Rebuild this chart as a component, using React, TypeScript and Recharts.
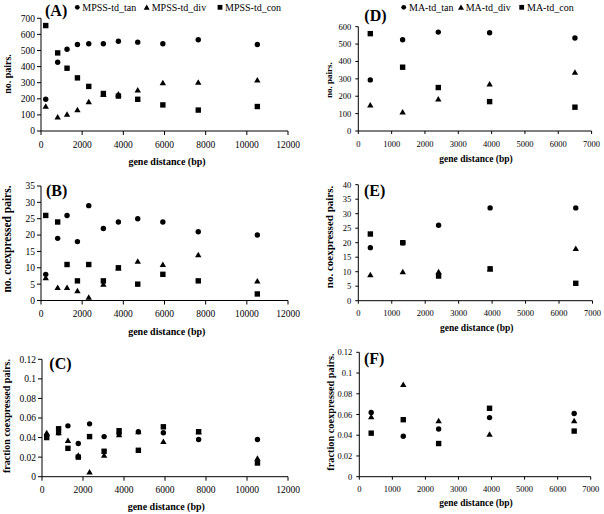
import React from 'react';
import { ScatterChart, Scatter, XAxis, YAxis } from 'recharts';

const FONT = "'Liberation Serif', 'Times New Roman', Times, serif";

// ---------- data ----------
const leftDistances = [230, 810, 1265, 1770, 2320, 3030, 3760, 4700, 5920, 7640, 10510];
const rightDistances = [360, 1330, 2400, 3940, 6500];

const mpssTanPairs = [197, 427, 508, 537, 542, 542, 557, 552, 542, 567, 537];
const mpssDivPairs = [155, 88, 105, 133, 183, 228, 230, 255, 300, 303, 318];
const mpssConPairs = [655, 485, 390, 330, 277, 233, 217, 197, 162, 130, 152];

const mpssTanCoexp = [8, 19, 26, 18, 29, 22, 24, 25, 24, 21, 20];
const mpssDivCoexp = [7, 4, 4, 3, 1, 5, 10, 12, 11, 14, 6];
const mpssConCoexp = [26, 24, 11, 6, 11, 6, 10, 5, 8, 6, 2];

const mpssTanFrac = [0.042, 0.045, 0.052, 0.034, 0.054, 0.041, 0.044, 0.046, 0.045, 0.038, 0.038];
const mpssDivFrac = [0.045, 0.045, 0.037, 0.022, 0.005, 0.022, 0.043, 0.046, 0.036, 0.046, 0.019];
const mpssConFrac = [0.040, 0.049, 0.029, 0.020, 0.041, 0.026, 0.047, 0.027, 0.051, 0.046, 0.014];

const maTanPairs = [294, 525, 569, 565, 535];
const maDivPairs = [150, 110, 185, 271, 338];
const maConPairs = [560, 367, 250, 169, 137];

const maTanCoexp = [18.3, 20, 26, 32, 32];
const maDivCoexp = [9, 10, 10, 11, 18];
const maConCoexp = [23, 20, 8.5, 11, 6];

const maTanFrac = [0.062, 0.039, 0.046, 0.057, 0.061];
const maDivFrac = [0.058, 0.089, 0.054, 0.041, 0.054];
const maConFrac = [0.042, 0.055, 0.032, 0.066, 0.044];

const leftXTicks = [0, 2000, 4000, 6000, 8000, 10000, 12000];
const rightXTicks = [0, 1000, 2000, 3000, 4000, 5000, 6000, 7000];
const pairsTicksA = [0, 100, 200, 300, 400, 500, 600, 700];
const pairsTicksD = [0, 100, 200, 300, 400, 500, 600];
const coexpTicksB = [0, 5, 10, 15, 20, 25, 30, 35];
const coexpTicksE = [0, 5, 10, 15, 20, 25, 30, 35, 40];
const fracTicks = [0, 0.02, 0.04, 0.06, 0.08, 0.1, 0.12];

const mpssNames = ['MPSS-td_tan', 'MPSS-td_div', 'MPSS-td_con'];
const maNames = ['MA-td_tan', 'MA-td_div', 'MA-td_con'];

const zip = (xs: number[], ys: number[]) => xs.map((x, i) => ({ x, y: ys[i] }));

// ---------- marker shapes ----------
const CircleShape = (p: any) => <circle cx={p.cx} cy={p.cy} r={2.7} fill="#000" />;
const SquareShape = (p: any) => <rect x={p.cx - 2.7} y={p.cy - 2.7} width={5.4} height={5.4} fill="#000" />;
const TriangleShape = (p: any) => (
  <polygon
    points={`${p.cx},${p.cy - 2.9} ${p.cx - 3.2},${p.cy + 2.6} ${p.cx + 3.2},${p.cy + 2.6}`}
    fill="#000"
  />
);

type PanelProps = {
  left: number; top: number; width: number; height: number;
  px0: number; px1: number; py0: number; py1: number;
  xDomain: [number, number]; xTicks: number[];
  yDomain: [number, number]; yTicks: number[];
  xs: number[]; tan: number[]; div: number[]; con: number[];
  tickFont: number; tickLen: number; yTickMargin: number; xTickMargin: number;
};

const Panel = (p: PanelProps) => {
  const tick = { fill: '#000', fontSize: p.tickFont, fontFamily: FONT };
  return (
    <div style={{ position: 'absolute', left: p.left, top: p.top, width: p.width, height: p.height }}>
      <ScatterChart
        width={p.width}
        height={p.height}
        margin={{ top: p.py0, right: p.width - p.px1, bottom: 0, left: 0 }}
      >
        <XAxis
          type="number"
          dataKey="x"
          domain={p.xDomain}
          ticks={p.xTicks}
          interval={0}
          height={p.height - p.py1}
          stroke="#000"
          tick={tick}
          tickSize={p.tickLen}
          tickMargin={p.xTickMargin}
          allowDataOverflow
        />
        <YAxis
          type="number"
          dataKey="y"
          domain={p.yDomain}
          ticks={p.yTicks}
          interval={0}
          width={p.px0}
          stroke="#000"
          tick={tick}
          tickSize={p.tickLen}
          tickMargin={p.yTickMargin}
          allowDataOverflow
        />
        <Scatter data={zip(p.xs, p.tan)} shape={CircleShape} isAnimationActive={false} />
        <Scatter data={zip(p.xs, p.div)} shape={TriangleShape} isAnimationActive={false} />
        <Scatter data={zip(p.xs, p.con)} shape={SquareShape} isAnimationActive={false} />
      </ScatterChart>
    </div>
  );
};

const Legend = ({ names, cx, tx }: { names: string[]; cx: number[]; tx: number[] }) => (
  <g>
    <circle cx={cx[0]} cy={7.3} r={2.4} fill="#000" />
    <polygon points={`${cx[1]},${4.6} ${cx[1] - 3},${9.8} ${cx[1] + 3},${9.8}`} fill="#000" />
    <rect x={cx[2] - 2.4} y={4.9} width={4.8} height={4.8} fill="#000" />
    {names.map((n, i) => (
      <text key={n} x={tx[i]} y={10.7} fontSize={10} fontFamily={FONT} fill="#000">{n}</text>
    ))}
  </g>
);

const YTitle = ({ x, y, size, text }: { x: number; y: number; size: number; text: string }) => (
  <text
    x={x}
    y={y}
    transform={`rotate(-90 ${x} ${y})`}
    textAnchor="middle"
    dominantBaseline="central"
    fontSize={size}
    fontWeight="bold"
    fontFamily={FONT}
    fill="#000"
  >
    {text}
  </text>
);

const XTitle = ({ x, y, size }: { x: number; y: number; size: number }) => (
  <text x={x} y={y} textAnchor="middle" fontSize={size} fontWeight="bold" fontFamily={FONT} fill="#000">
    gene distance (bp)
  </text>
);

const Letter = ({ x, y, t }: { x: number; y: number; t: string }) => (
  <text x={x} y={y} fontSize={16} fontWeight="bold" fontFamily={FONT} fill="#000">{t}</text>
);

export default function App() {
  const leftCommon = { tickFont: 9.5, tickLen: 4, yTickMargin: 2, xTickMargin: 6 };
  const rightCommon = { tickFont: 8.5, tickLen: 3, yTickMargin: 4, xTickMargin: 6.5 };
  return (
    <div style={{ position: 'absolute', left: 0, top: 0, width: 604, height: 514, background: '#fff', overflow: 'hidden' }}>
      <Panel left={0} top={0} width={300} height={170} px0={41} px1={288} py0={18.3} py1={131}
        xDomain={[0, 12000]} xTicks={leftXTicks} yDomain={[0, 700]} yTicks={pairsTicksA}
        xs={leftDistances} tan={mpssTanPairs} div={mpssDivPairs} con={mpssConPairs} {...leftCommon} />
      <Panel left={0} top={170} width={300} height={170} px0={41} px1={288} py0={16} py1={130.5}
        xDomain={[0, 12000]} xTicks={leftXTicks} yDomain={[0, 35]} yTicks={coexpTicksB}
        xs={leftDistances} tan={mpssTanCoexp} div={mpssDivCoexp} con={mpssConCoexp} {...leftCommon} />
      <Panel left={0} top={340} width={300} height={174} px0={42} px1={288} py0={19.3} py1={136.7}
        xDomain={[0, 12000]} xTicks={leftXTicks} yDomain={[0, 0.12]} yTicks={fracTicks}
        xs={leftDistances} tan={mpssTanFrac} div={mpssDivFrac} con={mpssConFrac} {...leftCommon} />
      <Panel left={300} top={0} width={304} height={170} px0={58.3} px1={291.6} py0={26.7} py1={131}
        xDomain={[0, 7000]} xTicks={rightXTicks} yDomain={[0, 600]} yTicks={pairsTicksD}
        xs={rightDistances} tan={maTanPairs} div={maDivPairs} con={maConPairs} {...rightCommon} />
      <Panel left={300} top={170} width={304} height={170} px0={58.3} px1={292.5} py0={14.7} py1={130.7}
        xDomain={[0, 7000]} xTicks={rightXTicks} yDomain={[0, 40]} yTicks={coexpTicksE}
        xs={rightDistances} tan={maTanCoexp} div={maDivCoexp} con={maConCoexp} {...rightCommon} />
      <Panel left={300} top={340} width={304} height={174} px0={59.3} px1={290.7} py0={12.3} py1={136.7}
        xDomain={[0, 7000]} xTicks={rightXTicks} yDomain={[0, 0.12]} yTicks={fracTicks}
        xs={rightDistances} tan={maTanFrac} div={maDivFrac} con={maConFrac} {...rightCommon} />

      <svg width={604} height={514} style={{ position: 'absolute', left: 0, top: 0, pointerEvents: 'none' }}>
        <Legend names={mpssNames} cx={[77.3, 146.7, 220]} tx={[82.3, 151.7, 225]} />
        <Legend names={maNames} cx={[403.7, 461, 521.7]} tx={[409, 465.7, 527]} />

        <Letter x={45} y={15.5} t="(A)" />
        <Letter x={46} y={195.5} t="(B)" />
        <Letter x={49.3} y={369} t="(C)" />
        <Letter x={364.3} y={20.5} t="(D)" />
        <Letter x={364} y={196} t="(E)" />
        <Letter x={364} y={363.5} t="(F)" />

        <YTitle x={7.8} y={74} size={10} text="no. pairs." />
        <YTitle x={7.2} y={239} size={11.5} text="no. coexpressed pairs." />
        <YTitle x={6.3} y={416} size={10} text="fraction coexpressed pairs." />
        <YTitle x={328.8} y={80} size={9} text="no. pairs." />
        <YTitle x={328.8} y={237} size={11} text="no. coexpressed pairs." />
        <YTitle x={330} y={412} size={10.3} text="fraction coexpressed pairs." />

        <XTitle x={167} y={164.5} size={10} />
        <XTitle x={166.8} y={334.5} size={10} />
        <XTitle x={166.3} y={510} size={10} />
        <XTitle x={476} y={162} size={9.5} />
        <XTitle x={476.7} y={331} size={9.5} />
        <XTitle x={476} y={506} size={9.5} />
      </svg>
    </div>
  );
}
